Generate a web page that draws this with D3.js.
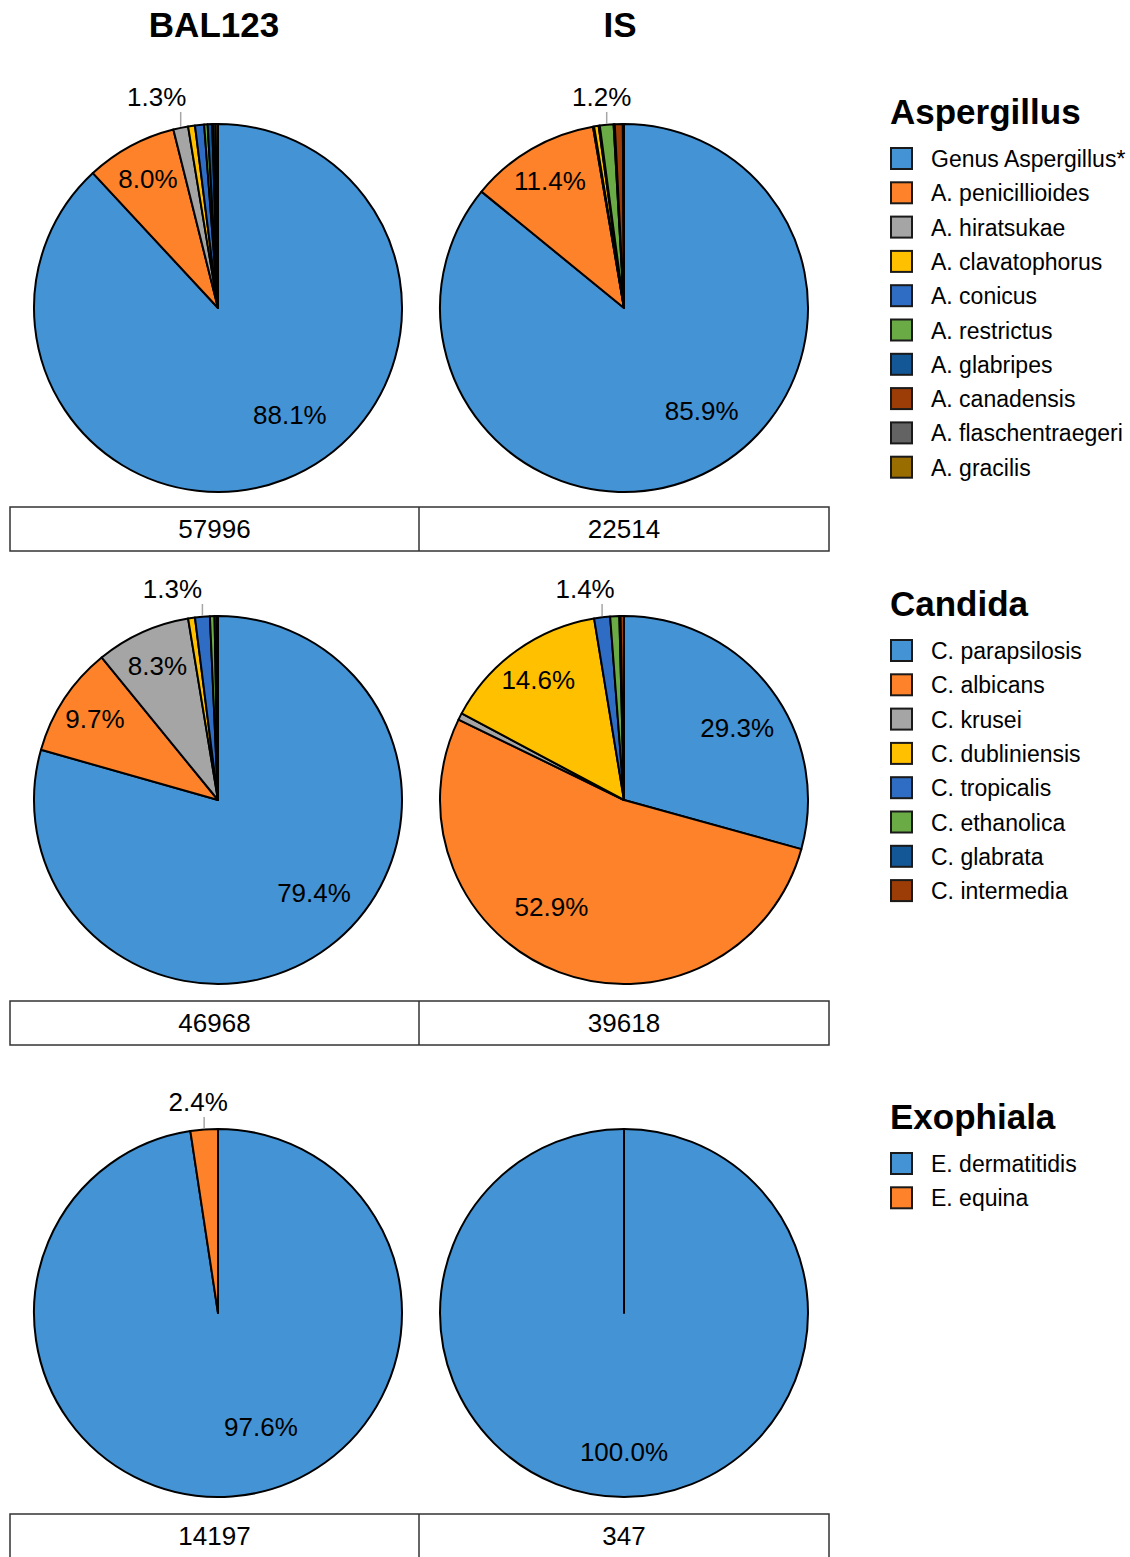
<!DOCTYPE html>
<html>
<head>
<meta charset="utf-8">
<script src="https://cdn.jsdelivr.net/npm/d3@7"></script>
<style>
  html, body { margin: 0; padding: 0; background: #fff; }
  svg { display: block; font-family: "Liberation Sans", Arial, Helvetica, sans-serif; }
</style>
</head>
<body>
<svg id="chart" width="1130" height="1557"></svg>
<script>
// ---- data ----------------------------------------------------------------
const sampleNames = ["BAL123", "IS"];

const aspergillusSpecies = ["Genus Aspergillus*", "A. penicillioides", "A. hiratsukae", "A. clavatophorus",
  "A. conicus", "A. restrictus", "A. glabripes", "A. canadensis", "A. flaschentraegeri", "A. gracilis"];
const aspergillusBAL = [88.1, 8.0, 1.3, 0.6, 0.8, 0.3, 0.4, 0.1, 0.2, 0.2];
const aspergillusIS = [85.9, 11.4, 0.1, 0.4, 0.1, 1.2, 0.1, 0.7, 0.1, 0.0];
const aspergillusTotals = [57996, 22514];

const candidaSpecies = ["C. parapsilosis", "C. albicans", "C. krusei", "C. dubliniensis",
  "C. tropicalis", "C. ethanolica", "C. glabrata", "C. intermedia"];
const candidaBAL = [79.4, 9.7, 8.3, 0.6, 1.3, 0.4, 0.2, 0.1];
const candidaIS = [29.3, 52.9, 0.6, 14.6, 1.4, 0.8, 0.1, 0.3];
const candidaTotals = [46968, 39618];

const exophialaSpecies = ["E. dermatitidis", "E. equina"];
const exophialaBAL = [97.6, 2.4];
const exophialaIS = [100.0, 0.0];
const exophialaTotals = [14197, 347];

const sliceColors = ["#4493d5", "#fd822a", "#a5a5a5", "#ffc000", "#2f6dc4",
  "#6aab46", "#135797", "#9c3c07", "#636363", "#9a6d00"];

// ---- layout ----------------------------------------------------------------
const W = 1130, H = 1557;
const R = 184;
const pieX = [218, 624];
const boxLeft = 10, boxMid = 419, boxRight = 829, boxH = 44;
const legendX = 890;
const labelFont = 26;

const groups = [
  { genus: "Aspergillus", species: aspergillusSpecies, values: [aspergillusBAL, aspergillusIS], totals: aspergillusTotals, cy: 308, boxGap: 199 },
  { genus: "Candida", species: candidaSpecies, values: [candidaBAL, candidaIS], totals: candidaTotals, cy: 800, boxGap: 201 },
  { genus: "Exophiala", species: exophialaSpecies, values: [exophialaBAL, exophialaIS], totals: exophialaTotals, cy: 1313, boxGap: 201 }
];

// Label placement tweaks for the large slices: [angle shift in degrees, radius fraction]
const bigLabelPlacement = {
  "Aspergillus-0": { 0: [-12.5, 0.70] },
  "Aspergillus-1": { 0: [-11.7, 0.70] },
  "Candida-0": { 0: [-8.8, 0.727] },
  "Candida-1": { 0: [4.7, 0.73], 1: [13.6, 0.70] },
  "Exophiala-0": { 0: [-16.4, 0.66] },
  "Exophiala-1": { 0: [0, 0.755] }
};
// Horizontal offset of the small outside labels from their leader lines
const outsideLabelDx = {
  "Aspergillus-0": -24, "Aspergillus-1": -5,
  "Candida-0": -30, "Candida-1": -17,
  "Exophiala-0": -6, "Exophiala-1": 0
};

const svg = d3.select("#chart");
svg.append("rect").attr("width", W).attr("height", H).attr("fill", "#fff");

// Column titles
svg.selectAll("text.coltitle").data(sampleNames).join("text")
  .attr("class", "coltitle")
  .attr("x", (d, i) => pieX[i] - 4)
  .attr("y", 37)
  .attr("text-anchor", "middle")
  .attr("font-weight", "bold")
  .attr("font-size", 35)
  .attr("fill", "#000")
  .text(d => d);

const pie = d3.pie().sort(null).value(d => d);
const arc = d3.arc().innerRadius(0).outerRadius(R);
const fmt = d3.format(".1f");
const toRad = a => a * Math.PI / 180;

groups.forEach(g => {
  g.values.forEach((vals, col) => {
    const key = g.genus + "-" + col;
    const total = d3.sum(vals);
    const arcs = pie(vals);
    const gp = svg.append("g").attr("transform", `translate(${pieX[col]},${g.cy})`);

    gp.selectAll("path").data(arcs).join("path")
      .attr("d", arc)
      .attr("fill", (d, i) => sliceColors[i])
      .attr("stroke", "#000")
      .attr("stroke-width", 2)
      .attr("stroke-linejoin", "round");

    arcs.forEach((d, i) => {
      const pct = d.data / total * 100;
      if (pct < 1.0) return;
      const mid = (d.startAngle + d.endAngle) / 2;
      const label = fmt(pct) + "%";
      if (pct < 5) {
        // outside label with a short vertical leader line
        const lx = R * Math.sin(mid);
        const ly = -R * Math.cos(mid);
        gp.append("line")
          .attr("x1", lx).attr("x2", lx)
          .attr("y1", ly - 1).attr("y2", -196)
          .attr("stroke", "#a6a6a6").attr("stroke-width", 1.5);
        gp.append("text")
          .attr("x", lx + outsideLabelDx[key])
          .attr("y", -211)
          .attr("dy", "0.35em")
          .attr("text-anchor", "middle")
          .attr("font-size", labelFont)
          .attr("fill", "#000")
          .text(label);
      } else {
        const tweak = (bigLabelPlacement[key] || {})[i] || [0, 0.8];
        const ang = mid + toRad(tweak[0]);
        const rr = R * tweak[1];
        gp.append("text")
          .attr("x", rr * Math.sin(ang))
          .attr("y", -rr * Math.cos(ang))
          .attr("dy", "0.35em")
          .attr("text-anchor", "middle")
          .attr("font-size", labelFont)
          .attr("fill", "#000")
          .text(label);
      }
    });
  });

  // Totals box under the pair of pies
  const by = g.cy + g.boxGap;
  const box = svg.append("g");
  box.append("rect")
    .attr("x", boxLeft).attr("y", by)
    .attr("width", boxRight - boxLeft).attr("height", boxH)
    .attr("fill", "#fff").attr("stroke", "#333").attr("stroke-width", 1.5);
  box.append("line")
    .attr("x1", boxMid).attr("x2", boxMid)
    .attr("y1", by).attr("y2", by + boxH)
    .attr("stroke", "#333").attr("stroke-width", 1.5);
  box.selectAll("text").data(g.totals).join("text")
    .attr("x", (d, i) => i === 0 ? (boxLeft + boxMid) / 2 : (boxMid + boxRight) / 2)
    .attr("y", by + boxH / 2)
    .attr("dy", "0.35em")
    .attr("text-anchor", "middle")
    .attr("font-size", labelFont)
    .attr("fill", "#000")
    .text(d => d);

  // Legend
  const lg = svg.append("g");
  lg.append("text")
    .attr("x", legendX).attr("y", g.cy - 196)
    .attr("dy", "0.35em")
    .attr("font-weight", "bold")
    .attr("font-size", 35)
    .attr("fill", "#000")
    .text(g.genus);
  const items = lg.selectAll("g.item").data(g.species).join("g")
    .attr("class", "item")
    .attr("transform", (d, i) => `translate(${legendX},${g.cy - 149 + i * 34.3})`);
  items.append("rect")
    .attr("x", 1).attr("y", -11)
    .attr("width", 21).attr("height", 21)
    .attr("fill", (d, i) => sliceColors[i])
    .attr("stroke", "#1a1a1a").attr("stroke-width", 2);
  items.append("text")
    .attr("x", 41).attr("y", 0)
    .attr("dy", "0.35em")
    .attr("font-size", 23)
    .attr("fill", "#000")
    .text(d => d);
});
</script>
</body>
</html>
